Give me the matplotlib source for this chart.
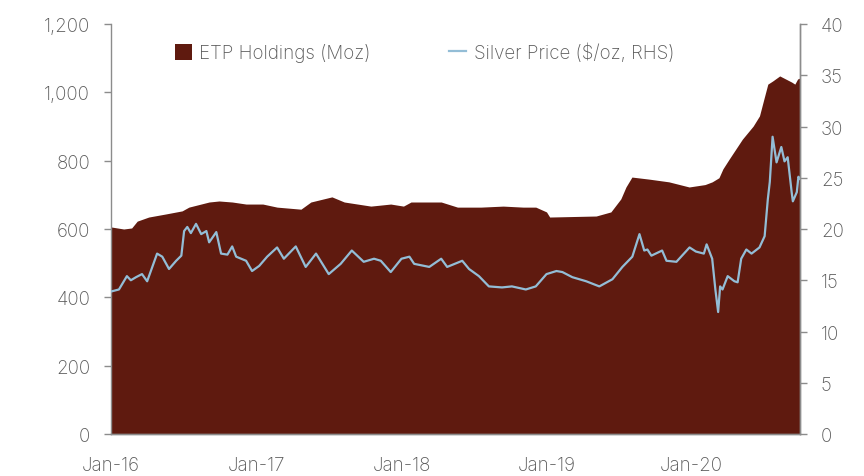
import pandas as pd
import matplotlib.pyplot as plt
import matplotlib.dates as mdates
from matplotlib.ticker import FuncFormatter, MultipleLocator

# ETP holdings (Moz)
hold_dates = ["2016-01-01", "2016-02-02", "2016-02-22", "2016-03-07", "2016-04-05",
              "2016-05-18", "2016-06-28", "2016-07-15", "2016-09-04", "2016-09-29",
              "2016-11-01", "2016-12-06", "2017-01-17", "2017-02-22", "2017-04-23",
              "2017-05-18", "2017-07-10", "2017-08-10", "2017-10-16", "2017-12-05",
              "2018-01-06", "2018-01-25", "2018-04-11", "2018-05-22", "2018-07-20",
              "2018-09-14", "2018-11-03", "2018-12-05", "2019-01-01", "2019-01-09",
              "2019-05-06", "2019-06-12", "2019-07-07", "2019-07-20", "2019-08-04",
              "2019-09-16", "2019-11-05", "2019-12-26", "2020-02-04", "2020-02-22",
              "2020-03-10", "2020-03-20", "2020-04-05", "2020-05-08", "2020-06-04",
              "2020-06-20", "2020-07-01", "2020-07-11", "2020-07-23", "2020-08-10",
              "2020-09-09", "2020-09-17", "2020-09-24", "2020-09-30"]
hold_vals = [606, 600, 603, 623, 635,
             644, 653, 664, 679, 682,
             679, 673, 673, 664, 658,
             679, 694, 679, 667, 673,
             667, 679, 679, 664, 664,
             667, 664, 664, 650, 635,
             638, 650, 688, 723, 752,
             746, 738, 723, 730, 738,
             750, 776, 805, 863, 901,
             931, 980, 1024, 1033, 1048,
             1030, 1024, 1039, 1042]

# Silver price ($/oz)
silver_dates = ["2016-01-01", "2016-01-21", "2016-02-10", "2016-02-20", "2016-03-04",
                "2016-03-19", "2016-04-01", "2016-04-26", "2016-05-09", "2016-05-26",
                "2016-06-13", "2016-06-26", "2016-07-03", "2016-07-11", "2016-07-20",
                "2016-08-02", "2016-08-15", "2016-08-28", "2016-09-04", "2016-09-22",
                "2016-10-04", "2016-10-20", "2016-11-01", "2016-11-11", "2016-12-06",
                "2016-12-21", "2017-01-08", "2017-01-28", "2017-02-22", "2017-03-11",
                "2017-04-10", "2017-05-05", "2017-05-31", "2017-07-02", "2017-08-01",
                "2017-08-29", "2017-09-28", "2017-10-24", "2017-11-10", "2017-12-05",
                "2018-01-01", "2018-01-21", "2018-02-02", "2018-03-12", "2018-04-11",
                "2018-04-26", "2018-06-03", "2018-06-20", "2018-07-15", "2018-08-09",
                "2018-09-11", "2018-10-06", "2018-11-10", "2018-12-05", "2019-01-01",
                "2019-01-26", "2019-02-10", "2019-03-07", "2019-04-11", "2019-05-14",
                "2019-06-16", "2019-07-11", "2019-08-05", "2019-08-23", "2019-09-04",
                "2019-09-12", "2019-09-22", "2019-10-19", "2019-10-30", "2019-11-24",
                "2019-12-27", "2020-01-12", "2020-02-01", "2020-02-08", "2020-02-22",
                "2020-03-01", "2020-03-08", "2020-03-13", "2020-03-19", "2020-04-01",
                "2020-04-18", "2020-04-26", "2020-05-05", "2020-05-18", "2020-05-31",
                "2020-06-20", "2020-07-03", "2020-07-11", "2020-07-16", "2020-07-23",
                "2020-08-02", "2020-08-14", "2020-08-22", "2020-08-30", "2020-09-09",
                "2020-09-12", "2020-09-22", "2020-09-26", "2020-09-30"]
silver_vals = [13.9, 14.1, 15.4, 15.0, 15.3,
               15.6, 14.9, 17.6, 17.3, 16.1,
               16.9, 17.4, 19.8, 20.2, 19.6,
               20.5, 19.5, 19.8, 18.7, 19.7,
               17.6, 17.5, 18.3, 17.3, 16.9,
               15.9, 16.4, 17.3, 18.2, 17.1,
               18.3, 16.3, 17.6, 15.6, 16.6,
               17.9, 16.8, 17.1, 16.9, 15.8,
               17.1, 17.3, 16.6, 16.3, 17.1,
               16.3, 16.9, 16.1, 15.4, 14.4,
               14.3, 14.4, 14.1, 14.4, 15.6,
               15.9, 15.8, 15.3, 14.9, 14.4,
               15.1, 16.3, 17.3, 19.5, 17.9,
               18.0, 17.4, 17.9, 16.9, 16.8,
               18.2, 17.8, 17.6, 18.5, 17.1,
               14.1, 11.9, 14.4, 14.1, 15.4,
               14.9, 14.8, 17.1, 18.0, 17.6,
               18.2, 19.3, 22.9, 24.6, 29.0,
               26.5, 28.0, 26.6, 27.0, 23.6,
               22.7, 23.6, 25.1, 24.9]

hold_x = pd.to_datetime(hold_dates)
silver_x = pd.to_datetime(silver_dates)

plt.rcParams['font.family'] = ['Inter', 'DejaVu Sans']
plt.rcParams['font.weight'] = 'light'
text_col = '#5a5a5a'
spine_col = '#8c8c8c'
fill_col = '#5f1a0f'
line_col = '#93bdd6'

fig = plt.figure(figsize=(8.64, 4.77), dpi=100)
ax = fig.add_axes([111 / 864, 42 / 477, 689 / 864, 410 / 477])
ax.fill_between(hold_x, hold_vals, 0, color=fill_col, linewidth=0,
                label='ETP Holdings (Moz)')
ax.set_ylim(0, 1200)
ax.yaxis.set_major_locator(MultipleLocator(200))
ax.yaxis.set_major_formatter(FuncFormatter(lambda v, p: f'{int(v):,}'))
ax.set_xlim(pd.Timestamp('2016-01-01'), pd.Timestamp('2020-09-30'))
ax.xaxis.set_major_locator(mdates.YearLocator())
ax.xaxis.set_major_formatter(mdates.DateFormatter('Jan-%y'))

ax2 = ax.twinx()
ax2.plot(silver_x, silver_vals, color=line_col, linewidth=1.6,
         label='Silver Price ($/oz, RHS)')
ax2.set_ylim(0, 40)
ax2.yaxis.set_major_locator(MultipleLocator(5))

for a in (ax, ax2):
    a.spines['top'].set_visible(False)
    for s in ('left', 'right', 'bottom'):
        a.spines[s].set_color(spine_col)
        a.spines[s].set_linewidth(1.0)
    a.tick_params(axis='y', colors=spine_col, labelcolor=text_col,
                  labelsize=13.5, length=5, width=1, pad=10)
ax.tick_params(axis='x', length=0, labelcolor=text_col, labelsize=13.5, pad=16)
ax2.spines['left'].set_visible(False)

h1, l1 = ax.get_legend_handles_labels()
h2, l2 = ax2.get_legend_handles_labels()
leg = ax2.legend(h1 + h2, l1 + l2, loc='upper left', bbox_to_anchor=(0.068, 0.995),
                 ncol=2, frameon=False, fontsize=13.5, columnspacing=4.2,
                 handlelength=0.9, handleheight=0.9, handletextpad=0.4)
for t in leg.get_texts():
    t.set_color(text_col)

fig.savefig('out.png', dpi=100)
